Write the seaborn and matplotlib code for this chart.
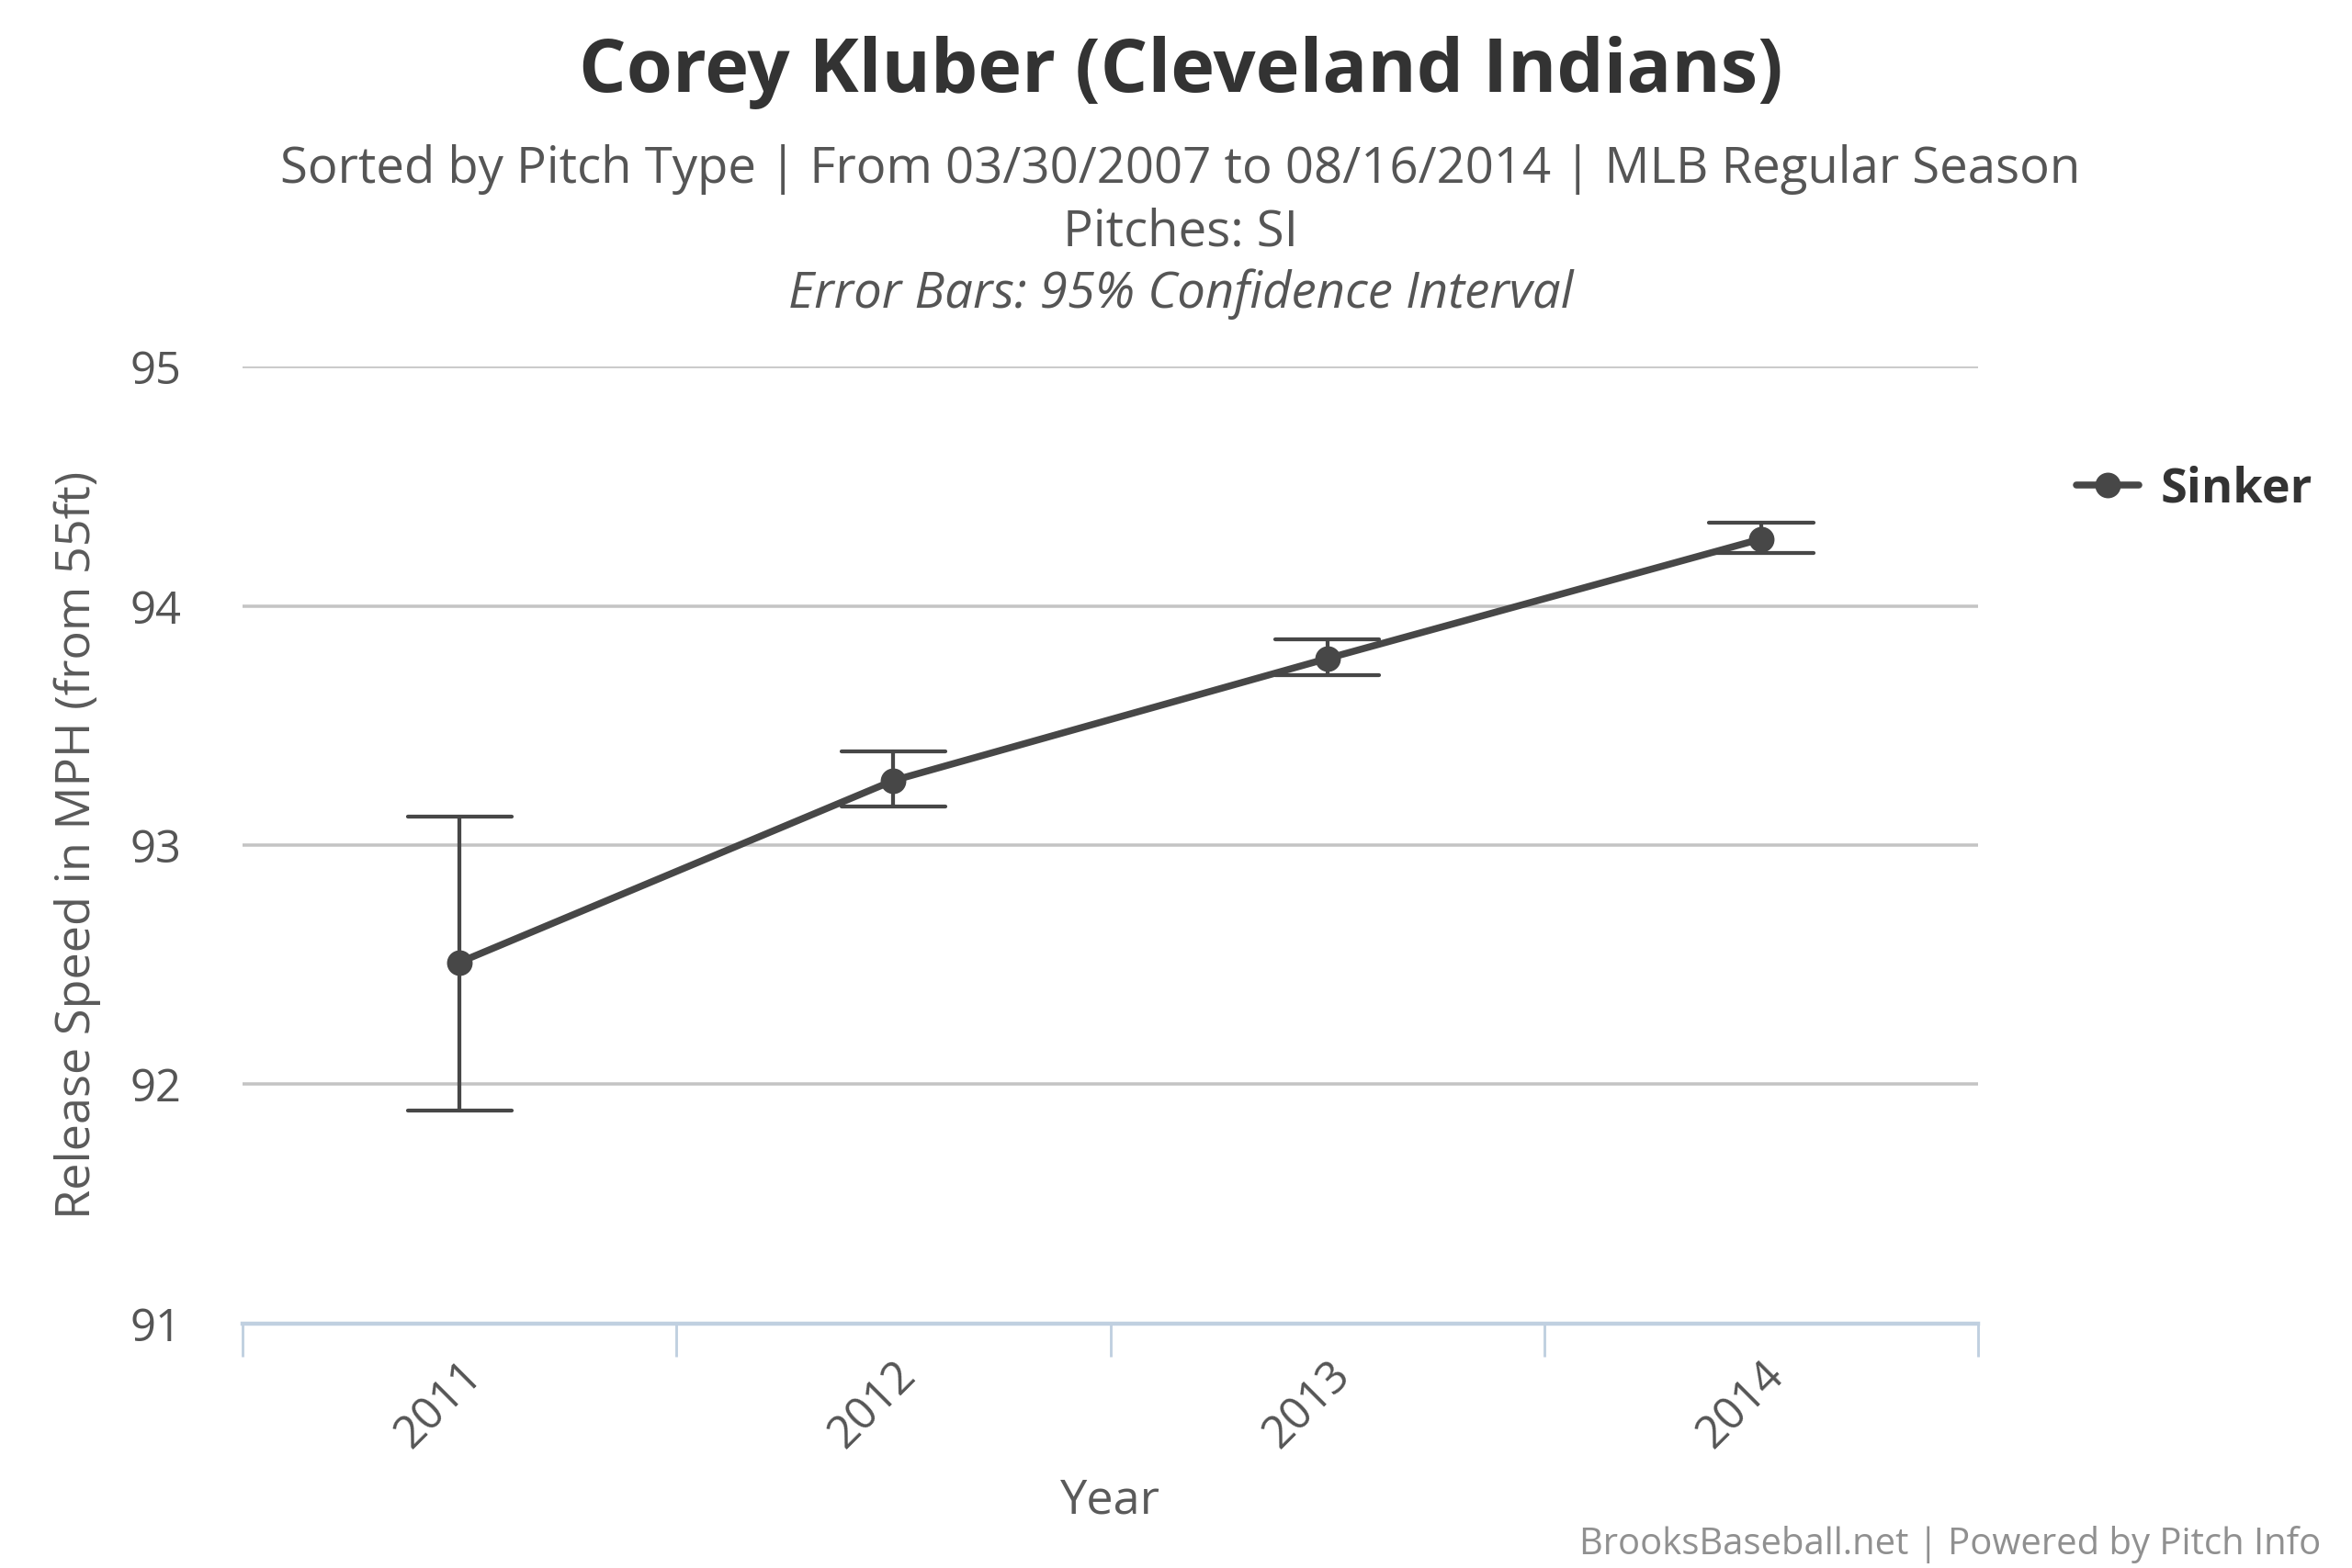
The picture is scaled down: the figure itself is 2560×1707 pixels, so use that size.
import numpy as np
import pandas as pd
import matplotlib
matplotlib.use('Agg')
import matplotlib.pyplot as plt
from matplotlib.ticker import FixedLocator
import seaborn as sns

sns.set_style("white")
plt.rcParams['font.family'] = ['Open Sans', 'DejaVu Sans']

years = ["2011", "2012", "2013", "2014"]
speed = [92.51, 93.27, 93.78, 94.28]
ci_low = [91.89, 93.16, 93.71, 94.22]
ci_high = [93.12, 93.39, 93.86, 94.35]
pitch = "Sinker"
yticks = [91, 92, 93, 94, 95]

# three rows per year: median gives the mean, 0-100 interval gives the CI
rows = []
for y, lo, m, hi in zip(years, ci_low, speed, ci_high):
    for v in (lo, m, hi):
        rows.append({"Year": y, "mph": v, "pitch": pitch})
df = pd.DataFrame(rows)

line_col = "#474747"
fig = plt.figure(figsize=(16, 10.67), dpi=160)
ax = fig.add_axes([0.1032, 0.156, 0.7378, 0.61])

sns.pointplot(data=df, x="Year", y="mph", hue="pitch", order=years,
              palette={pitch: line_col}, estimator="median",
              errorbar=("pi", 100), capsize=0.24, linewidth=3.4,
              markersize=10, err_kws={"linewidth": 1.9}, ax=ax)

ax.set_xlim(-0.5, 3.5)
ax.set_ylim(91, 95)
ax.set_yticks(yticks)
ax.tick_params(axis='y', length=0, pad=30, labelsize=22, labelcolor="#555555")
for v in yticks[1:]:
    ax.axhline(v, color="#c4c4c4", linewidth=1.6, zorder=0)

for s in ["top", "right", "left"]:
    ax.spines[s].set_visible(False)
ax.spines["bottom"].set_color("#c0d0e0")
ax.spines["bottom"].set_linewidth(2)

ax.xaxis.set_minor_locator(FixedLocator([-0.5, 0.5, 1.5, 2.5, 3.5]))
ax.tick_params(axis='x', which='minor', length=16, width=1.3, color="#c0d0e0",
               direction='out', bottom=True)
ax.tick_params(axis='x', which='major', length=0, pad=14, labelsize=22,
               labelcolor="#555555")
for lab in ax.get_xticklabels():
    lab.set_rotation(45)
    lab.set_ha('right')
    lab.set_rotation_mode('anchor')

ax.set_xlabel("Year", fontsize=23.5, color="#5a5a5a", labelpad=10)
ax.set_ylabel("Release Speed in MPH (from 55ft)", fontsize=23.5, color="#5a5a5a",
              labelpad=14)

handles, labels = ax.get_legend_handles_labels()
ax.get_legend().remove()
fig.legend(handles, labels, loc='center left', bbox_to_anchor=(0.883, 0.688),
           frameon=False, prop={'size': 23.5, 'weight': 'bold'},
           borderaxespad=0, borderpad=0,
           handlelength=1.3, handletextpad=0.45, labelcolor="#333333")

fig.text(0.502, 0.954, "Corey Kluber (Cleveland Indians)", ha='center',
         va='center', fontsize=36.5, fontweight='bold', color="#333333")
fig.text(0.502, 0.892, "Sorted by Pitch Type | From 03/30/2007 to 08/16/2014 | MLB Regular Season",
         ha='center', va='center', fontsize=24.5, color="#555555")
fig.text(0.502, 0.852, "Pitches: SI", ha='center', va='center', fontsize=24.5,
         color="#555555")
fig.text(0.502, 0.8125, "Error Bars: 95% Confidence Interval", ha='center',
         va='center', fontsize=24.5, style='italic', color="#555555")
fig.text(0.987, 0.015, "BrooksBaseball.net | Powered by Pitch Info", ha='right',
         va='center', fontsize=18, color="#909090")

fig.savefig("out.png", dpi=160)
